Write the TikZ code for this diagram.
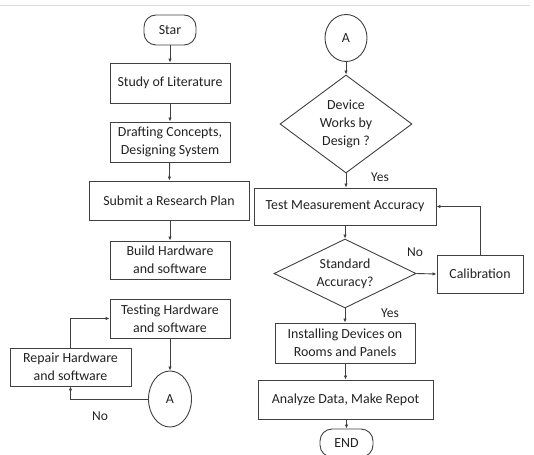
\documentclass[tikz,border=0pt]{standalone}
\usepackage{fontspec}
\setmainfont{Carlito}
\usetikzlibrary{shapes.geometric,arrows.meta}
\definecolor{linegray}{HTML}{404040}
\definecolor{textgray}{HTML}{222222}
\definecolor{rulegray}{HTML}{DDDDDD}
\begin{document}
\begin{tikzpicture}[x=1pt,y=-1pt,
  every node/.style={font=\fontsize{13.9}{18}\selectfont, text=textgray, align=center, inner sep=0pt},
  procbox/.style={draw=linegray, line width=0.9pt, rectangle},
  termbox/.style={draw=linegray, line width=0.9pt, rectangle, rounded corners=12pt},
  connbox/.style={draw=linegray, line width=0.9pt, ellipse},
  decbox/.style={draw=linegray, line width=0.9pt, diamond},
  flow/.style={draw=linegray, line width=0.9pt, -{Latex[length=4pt,width=3.5pt]}},
  lbl/.style={font=\fontsize{13.5}{16}\selectfont}
]
\useasboundingbox (0,0) rectangle (534,454);
\draw[rulegray, line width=0.8pt] (0,5) -- (530,5);

% left column
\node[termbox, minimum width=52, minimum height=30] (star) at (170,30) {Star};
\node[procbox, minimum width=120, minimum height=40] (study) at (170,83) {Study of Literature};
\node[procbox, minimum width=120, minimum height=40] (draft) at (170,142) {Drafting Concepts,\\Designing System};
\node[procbox, minimum width=160, minimum height=39] (submit) at (169,200.5) {Submit a Research Plan};
\node[procbox, minimum width=120, minimum height=38] (build) at (170,260) {Build Hardware\\and software};
\node[procbox, minimum width=120, minimum height=39] (testing) at (170,318.5) {Testing Hardware\\and software};
\node[procbox, minimum width=121, minimum height=38] (repair) at (70.5,367) {Repair Hardware\\and software};
\node[connbox, minimum width=43, minimum height=56] (aleft) at (170,399) {A};
\node[lbl] (noleft) at (100,416) {No};

\draw[flow] (star) -- (study);
\draw[flow] (study) -- (draft);
\draw[flow] (draft) -- (submit);
\draw[flow] (submit.south -| build.north) -- (build);
\draw[flow] (testing) -- (aleft);
\draw[flow] (aleft.west) -| (repair.south);
\draw[flow] (repair.north) |- (testing.west);

% right column
\node[connbox, minimum width=42, minimum height=47] (aright) at (346,38) {A};
\node[decbox, minimum width=132, minimum height=98, aspect=1.35] (device) at (346,124) {Device\\Works by\\Design ?};
\node[lbl] (yes1) at (380,177) {Yes};
\node[procbox, minimum width=182, minimum height=37] (tma) at (345,206.5) {Test Measurement Accuracy};
\node[decbox, minimum width=142, minimum height=69, aspect=2.06] (std) at (345,273.5) {Standard\\Accuracy?};
\node[lbl] (no2) at (415,252) {No};
\node[procbox, minimum width=86, minimum height=38] (calib) at (480,274) {Calibration};
\node[lbl] (yes2) at (390,313) {Yes};
\node[procbox, minimum width=140, minimum height=40] (install) at (345,343) {Installing Devices on\\Rooms and Panels};
\node[procbox, minimum width=175, minimum height=39] (analyze) at (345.5,399.5) {Analyze Data, Make Repot};
\node[termbox, minimum width=53, minimum height=28] (finish) at (346.5,443) {END};

\draw[flow] (aright) -- (device);
\draw[flow] (device.south) -- (device.south |- tma.north);
\draw[flow] (tma.south -| std.north) -- (std.north);
\draw[flow] (std.east) -- (calib.west);
\draw[flow] (calib.north) |- (tma.east);
\draw[flow] (std.south) -- (std.south |- install.north);
\draw[flow] (install.south -| analyze.north) -- (analyze.north);
\draw[flow] (analyze.south -| finish.north) -- (finish.north);
\end{tikzpicture}
\end{document}
